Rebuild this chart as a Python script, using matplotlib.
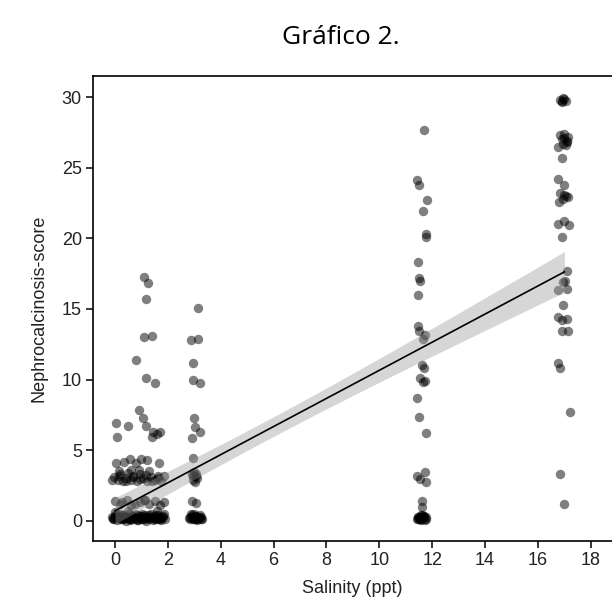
import numpy as np
import matplotlib
matplotlib.use("Agg")
import matplotlib.pyplot as plt

# ---- data (x includes the displayed jitter) ----
grpA_x = [1.11, 1.24, 1.17, 1.11, 1.39, 0.81, 1.16, 1.51,
          0.90, 1.07, 1.17, 1.45, 1.70, 1.58, 1.39,
          0.04, 0.48, 0.08,
          0.04, 0.55, 0.80, 1.23, 1.66, 0.35, 1.00,
          -0.05, 0.10, 0.20, 0.30, 0.42, 0.50, 0.62, 0.70, 0.85, 0.95, 1.05, 1.20, 1.35, 1.50, 1.62, 1.75, 0.15, 0.60, 0.90, 1.30,
          0.00, 0.20, 0.45, 0.60, 0.95, 1.10, 1.30, 1.50, 1.70, 1.85,
          -0.12, -0.05, 0.05, 0.12, 0.20, 0.28, 0.35, 0.45, 0.52, 0.60, 0.70, 0.78, 0.85, 0.95,
          1.02, 1.10, 1.20, 1.30, 1.38, 1.45, 1.55, 1.62, 1.72, 1.80, 1.88, 0.00, 0.50, 1.60,
          -0.08, 0.02, 0.09, 0.17, 0.25, 0.32, 0.40, 0.48, 0.56, 0.65, 0.74, 0.82, 0.90, 0.99,
          1.06, 1.15, 1.24, 1.34, 1.42, 1.50, 1.58, 1.67, 1.76, 1.84, 0.38, 0.88, 1.27, 1.69,
          -0.10, 0.14, 0.43, 0.67, 0.93, 1.18, 1.41, 1.64, 1.86, 0.27, 0.75, 1.12,
          -0.06, 0.07, 0.22, 0.31, 0.44, 0.58, 0.69, 0.81, 0.97, 1.08, 1.19, 1.33, 1.47, 1.57,
          1.73, 1.83, 0.36, 0.62, 1.04, 1.52]
grpA_y = [17.25, 16.87, 15.69, 13.04, 13.09, 11.4, 10.1, 9.79,
          7.86, 7.27, 6.72, 6.32, 6.32, 6.15, 5.92,
          6.91, 6.72, 5.97,
          4.08, 4.4, 4.1, 4.3, 4.1, 4.2, 4.35,
          3.1, 2.9, 3.3, 2.8, 3.0, 3.4, 2.9, 3.2, 2.8, 3.3, 3.0, 2.85, 3.1, 2.9, 3.2, 2.8, 3.5, 3.6, 3.6, 3.5,
          1.4, 1.2, 1.45, 1.1, 1.3, 1.5, 1.2, 1.4, 1.1, 1.35,
          0.3, 0.1, 0.4, 0.2, 0.5, 0.1, 0.3, 0.2, 0.45, 0.15, 0.35, 0.1, 0.4, 0.2,
          0.5, 0.15, 0.3, 0.1, 0.45, 0.25, 0.1, 0.4, 0.2, 0.35, 0.15, 0.6, 0.7, 0.7,
          0.2, 0.35, 0.05, 0.25, 0.4, 0.15, 0.0, 0.3, 0.1, 0.25, 0.45, 0.05, 0.2, 0.35,
          0.1, 0.4, 0.2, 0.3, 0.05, 0.35, 0.2, 0.1, 0.3, 0.45, 0.25, 0.05, 0.4, 0.15,
          2.9, 3.2, 2.8, 3.1, 2.95, 3.25, 2.85, 3.0, 3.15, 1.3, 1.2, 1.45,
          0.15, 0.3, 0.1, 0.4, 0.25, 0.05, 0.35, 0.2, 0.1, 0.3, 0.0, 0.25, 0.15, 0.4,
          0.05, 0.3, 0.2, 0.1, 0.35, 0.2]

grp3_x = [3.15, 2.87, 3.15, 2.96, 2.96, 3.23, 3.00, 3.03, 3.21, 2.90, 2.96,
          3.00, 3.08, 2.95, 3.10, 3.02, 2.92, 2.90, 3.08,
          2.85, 2.95, 3.05, 3.15, 3.25, 3.00,
          2.80, 2.90, 3.00, 3.10, 3.20, 3.30, 2.98, 3.12, 3.05, 2.94,
          2.83, 2.92, 3.02, 3.11, 3.22, 2.88, 3.07, 3.18, 2.97, 3.27]
grp3_y = [15.05, 12.8, 12.86, 11.2, 9.98, 9.74, 7.27, 6.67, 6.32, 5.85, 4.48,
          3.49, 3.3, 3.14, 3.0, 2.78, 3.35, 1.37, 1.25,
          0.3, 0.15, 0.35, 0.2, 0.3, 0.5,
          0.2, 0.4, 0.1, 0.25, 0.4, 0.15, 0.3, 0.1, 3.2, 2.9,
          0.1, 0.25, 0.35, 0.05, 0.2, 0.45, 0.15, 0.3, 0.2, 0.1]

grp11_x = [11.69, 11.41, 11.51, 11.80, 11.66, 11.75, 11.78, 11.47, 11.51, 11.55, 11.45,
           11.45, 11.51, 11.74, 11.67, 11.60, 11.68, 11.55, 11.74, 11.66, 11.44, 11.51, 11.76,
           11.72, 11.44, 11.53, 11.76, 11.60, 11.62, 11.45, 11.55, 11.65, 11.75, 11.60,
           11.50, 11.70, 11.58, 11.48, 11.68,
           11.43, 11.52, 11.62, 11.72, 11.47, 11.57, 11.67, 11.77, 11.54, 11.64]
grp11_y = [27.7, 24.1, 23.8, 22.7, 21.9, 20.3, 20.1, 18.3, 17.2, 17.0, 16.0,
           13.8, 13.47, 13.16, 12.9, 11.0, 10.8, 10.1, 9.93, 9.86, 8.73, 7.38, 6.25,
           3.45, 3.14, 2.95, 2.78, 1.42, 1.0, 0.3, 0.1, 0.25, 0.15, 0.4,
           0.2, 0.35, 0.05, 0.15, 0.3,
           0.1, 0.3, 0.2, 0.05, 0.25, 0.4, 0.1, 0.3, 0.15, 0.35]

grp17_x = [16.85, 16.95, 17.05, 16.90, 17.00, 16.92,
           16.85, 17.00, 17.10, 16.95, 17.15, 16.90, 17.05, 16.98, 17.08,
           16.75, 16.92, 16.75, 17.00,
           16.85, 17.05, 16.95, 17.15, 16.80, 16.98,
           16.75, 17.00, 17.17, 16.90, 17.10, 16.95, 17.02, 16.75, 17.08, 16.95,
           16.75, 16.90, 17.10, 16.90, 17.15, 16.75, 16.85, 17.20, 16.85, 17.00]
grp17_y = [29.8, 29.9, 29.75, 29.65, 29.85, 29.7,
           27.3, 27.1, 26.9, 26.7, 27.2, 27.0, 26.6, 27.4, 26.8,
           26.45, 25.7, 24.2, 23.8,
           23.2, 23.0, 22.8, 22.9, 22.6, 23.1,
           21.0, 21.2, 20.95, 20.1, 17.7, 16.9, 16.95, 16.35, 16.4, 15.3,
           14.46, 14.2, 14.27, 13.45, 13.45, 11.2, 10.8, 7.7, 3.3, 1.18]

salinity_levels = [0, 3, 11.5, 17]   # range of the fitted line

x_ticks = [0, 2, 4, 6, 8, 10, 12, 14, 16, 18]
y_ticks = [0, 5, 10, 15, 20, 25, 30]

title = "Gráfico 2."
xlabel = "Salinity (ppt)"
ylabel = "Nephrocalcinosis-score"

# ---- figure ----
plt.rcParams["font.family"] = ["Liberation Sans", "DejaVu Sans"]

x = np.array(grpA_x + grp3_x + grp11_x + grp17_x)
y = np.array(grpA_y + grp3_y + grp11_y + grp17_y)

fig = plt.figure(figsize=(6.12, 6.01), dpi=100)
ax = fig.add_axes([0.152, 0.100, 0.848, 0.7735])

ax.scatter(x, y, s=46, color="black", alpha=0.5, linewidths=0, zorder=2)

# linear fit with 95% CI
n = len(x)
b1, b0 = np.polyfit(x, y, 1)
resid = y - (b0 + b1 * x)
s = np.sqrt(np.sum(resid ** 2) / (n - 2))
xs = np.linspace(min(salinity_levels), max(salinity_levels), 100)
ys = b0 + b1 * xs
se = s * np.sqrt(1.0 / n + (xs - x.mean()) ** 2 / np.sum((x - x.mean()) ** 2))
ci = 1.97 * se
ax.fill_between(xs, ys - ci, ys + ci, color="#999999", alpha=0.4, linewidth=0, zorder=3)
ax.plot(xs, ys, color="black", lw=1.2, zorder=4)

ax.set_xlim(-0.83, 18.8)
ax.set_ylim(-1.42, 31.49)
ax.set_xticks(x_ticks)
ax.set_yticks(y_ticks)
ax.tick_params(labelsize=13, length=5, width=1.1, colors="black", labelcolor="#222222", pad=3)
for side in ["left", "bottom", "top"]:
    ax.spines[side].set_linewidth(1.2)
ax.spines["right"].set_visible(False)

ax.set_xlabel(xlabel, fontsize=13, color="#222222", labelpad=8)
ax.set_ylabel(ylabel, fontsize=13, color="#222222", labelpad=10)

fig.text(341 / 612, 1 - 38 / 601, title, ha="center", va="center",
         fontsize=19, family="Open Sans")

fig.savefig("out.png", dpi=100)
